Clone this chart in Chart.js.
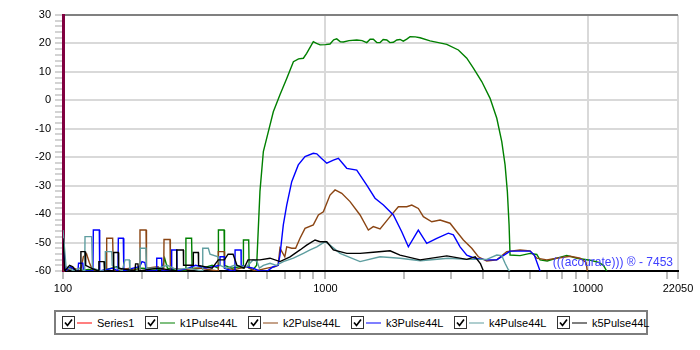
<!DOCTYPE html>
<html>
<head>
<meta charset="utf-8">
<script src="https://cdn.jsdelivr.net/npm/chart.js@4"></script>
<style>
    body { margin: 0; background: #fff; font-family: "Liberation Sans", Arial, sans-serif; }
    .chartWrapper { position: relative; width: 700px; height: 350px; }
    #freqChart { position: absolute; left: 0; top: 0; }
    .legendBox {
        position: absolute; left: 54px; top: 310px; width: 594px; height: 25px;
        box-sizing: border-box; border: 2px solid #7d7d7d;
        display: flex; align-items: center; padding-left: 6px;
        font-size: 11px; color: #000; white-space: nowrap;
    }
    .legendItem { display: flex; align-items: center; flex: none; }
    .checkBox {
        width: 13px; height: 13px; box-sizing: border-box; border: 1px solid #333;
        background: #fff; display: flex; align-items: center; justify-content: center;
    }
    .legendLine { width: 15px; height: 2px; margin: 0 5px 0 2px; }
</style>
</head>
<body>
<div class="chartWrapper">
    <canvas id="freqChart" width="700" height="300"></canvas>
    <div class="legendBox"></div>
</div>
<script>
//-----------------------------------------------------------------------------
// chart data ([frequency Hz, level dB])
//-----------------------------------------------------------------------------
const seriesNames  = ["Series1", "k1Pulse44L", "k2Pulse44L", "k3Pulse44L", "k4Pulse44L", "k5Pulse44L"];
const seriesColors = ["#ff0000", "#008000", "#8b4513", "#0000ff", "#5f9ea0", "#000000"];

const series1 = [];

const k1Pulse44L = [
    [100,-60],[108,-59],[115,-60],[125,-59.5],[140,-60],[160,-58.5],[172,-60],[200,-59],[238,-59.5],[244,-55.5],
    [250,-59],[280,-60],[293,-60],[294,-48.5],[309,-48.5],[310.5,-59],[340,-59],[370,-58],[390,-59],[391,-45.6],
    [411,-45.6],[412.5,-58],[440,-59],[470,-58.5],[486,-59],[487,-49.1],[510,-49.1],[512,-59],[530,-59.5],[547,-58],
    [563,-32],[580,-18],[606,-11],[633,-4],[671,2],[712,7.7],[755,13.6],[790,14.6],[824,14.8],[848,16.5],
    [899,20.6],[925,20.0],[954,19.5],[1000,19.6],[1041,19.8],[1075,21.3],[1104,21.6],[1140,20.6],[1170,20.5],[1230,21.0],
    [1316,21.2],[1380,21.0],[1437,20.3],[1480,21.5],[1522,21.5],[1570,20.3],[1615,20.3],[1660,21.4],[1713,21.2],[1760,20.3],
    [1815,20.4],[1870,21.2],[1924,21.4],[1980,20.8],[2041,21.5],[2101,22.4],[2200,22.3],[2294,22.0],[2504,20.9],[2900,19.7],
    [3210,17.7],[3456,14.8],[3662,11.3],[3941,6.6],[4240,0.7],[4497,-6.3],[4698,-14.5],[4836,-22.7],[4934,-32.1],[5009,-43.8],
    [5052,-54.4],[5515,-54.6],[6022,-53.8],[6387,-54.2],[6574,-56.1],[7000,-56.5],[7613,-55.5],[8310,-54.5],[9073,-55.5],[10194,-56.2],
    [11000,-57],[11460,-58],[11803,-60]
];

const k2Pulse44L = [
    [100,-60],[110,-59],[116.8,-60],[119.5,-55],[123,-54],[126,-57],[130,-60],[146,-60],[146.7,-48.5],[154.6,-48.5],
    [155.5,-60],[180,-59],[196,-60],[196.5,-45.6],[207.2,-45.6],[208,-59],[230,-58.5],[242,-60],[242.6,-48.9],[255.7,-48.9],
    [256.5,-59],[290,-59.5],[330,-59],[390,-60],[390.7,-53.2],[411.9,-53.2],[412.5,-59],[450,-59.5],[500,-58.5],[540,-60],
    [600,-59],[640,-58.5],[660,-58],[671,-52],[700,-55],[712,-51.5],[744,-52],[770,-52],[800,-48.5],[836,-45],
    [899,-43.8],[940,-40.3],[982,-39.2],[1041,-33.3],[1088,-31.5],[1154,-32.7],[1241,-35.6],[1355,-40.3],[1457,-45.6],[1522,-44.4],
    [1615,-45.2],[1763,-40.9],[1896,-37.4],[2041,-37.4],[2133,-36.8],[2259,-38],[2361,-40.9],[2542,-42.7],[2734,-42.1],[2984,-43.2],
    [3165,-46.2],[3354,-49.1],[3610,-52],[3825,-55],[4117,-56.5],[4497,-56.1],[4908,-53.2],[5515,-52.6],[6022,-52.9],[6387,-55.5],
    [6972,-56.1],[7613,-55.5],[8555,-54.8],[9339,-55.5],[9842,-57],[9950,-60]
];

const k3Pulse44L = [
    [100,-48.5],[102,-60],[107,-58.5],[112,-60],[114,-60],[114.6,-57.3],[119,-57.3],[119.6,-60],[130,-60],[130.5,-45.6],
    [137.5,-45.6],[138,-60],[155,-59],[162,-60],[162.5,-48.5],[169.7,-48.5],[170.5,-60],[185,-59],[196,-58.5],[200,-56.7],
    [205,-57],[208,-60],[227,-60],[227.6,-55.5],[237.7,-55.5],[238.5,-60],[259,-60],[259.5,-52.6],[271.3,-52.6],[272,-60],
    [300,-59],[320,-58],[350,-59],[396,-58],[396.6,-55],[411.9,-55],[412.5,-59],[440,-60],[452,-60],[452.6,-52.6],
    [476.8,-52.6],[477.5,-58],[500,-58.5],[530,-59],[560,-60],[600,-60],[633,-58.5],[660,-58],[671,-54.4],[691,-43.8],
    [712,-36.8],[744,-28.6],[788,-22.7],[836,-19.8],[899,-18.6],[927,-18.8],[960,-20.2],[1012,-22.1],[1072,-21],[1120,-20.4],
    [1206,-23.9],[1316,-24.5],[1437,-29.8],[1545,-34.4],[1663,-36.8],[1815,-40.3],[1953,-46.2],[2070,-51.5],[2259,-45.6],[2432,-50.3],
    [2656,-48.5],[2940,-46.7],[3072,-47.3],[3258,-51.5],[3456,-54.4],[3700,-55.5],[4117,-56.1],[4497,-56.1],[4908,-53.8],[5052,-53],
    [6022,-53],[6250,-54.4],[6574,-60]
];

const k4Pulse44L = [
    [100,-45.6],[102.7,-58.5],[110,-60],[116,-59],[121,-60],[121.3,-47.9],[128.6,-47.9],[129.5,-59],[140,-60],[144.6,-60],
    [145,-53.2],[153.3,-53.2],[154,-58],[168,-60],[172.3,-56.1],[178.9,-56.1],[180,-60],[196.5,-60],[197,-52],[207,-52],
    [208,-59],[230,-59],[250,-58],[270,-59.5],[300,-59],[340,-60],[340.8,-52],[357.9,-52],[363.3,-54.1],[390,-55],
    [396,-58],[420,-59],[450,-58],[500,-58.5],[530,-56.1],[548,-56.5],[560,-59],[580,-58],[615,-57.3],[650,-58],
    [691,-56.7],[755,-55.5],[824,-53.8],[874,-52.6],[927,-51.5],[997,-49.7],[1041,-50.9],[1136,-53.8],[1355,-56.7],[1615,-55],
    [1924,-55.5],[2300,-56.4],[2940,-55.5],[3456,-55.9],[4117,-55.9],[4497,-54.4],[4698,-54.6],[4836,-57.3],[4977,-59.6],[5050,-60]
];

const k5Pulse44L = [
    [100,-48.5],[101.5,-60],[106,-58],[109,-58.5],[112,-60],[116.5,-60],[117,-53.2],[121.3,-53.2],[122,-58],[128,-59],
    [136.3,-60],[137,-56.7],[143.3,-56.7],[144,-60],[155.3,-60],[156,-53.5],[162.5,-53.5],[163,-59],[188,-60],[189,-57.5],
    [193,-57.5],[194,-60],[230,-59],[270.6,-60],[271.3,-52.6],[287.4,-52.6],[288,-58],[313.2,-58],[313.8,-53.5],[327.8,-53.5],
    [328.5,-58],[370,-59],[390.7,-56.1],[411.9,-56.1],[425.6,-54.1],[444.7,-54.1],[460,-58],[490,-59],[507,-56.1],[529.8,-56.1],
    [563,-56.1],[615,-55.5],[671,-56.7],[733,-55],[800,-52.6],[848,-50.9],[913,-49.1],[954,-49.7],[1012,-49.7],[1072,-52.6],
    [1136,-53.2],[1206,-53.8],[1355,-53.8],[1522,-53.4],[1763,-52.9],[1924,-54.4],[2294,-56.1],[2900,-54.7],[3456,-55.9],[3720,-55],
    [3900,-57.5],[4000,-60]
];

const seriesData = [series1, k1Pulse44L, k2Pulse44L, k3Pulse44L, k4Pulse44L, k5Pulse44L];

// axis ticks
const xTickValues = [100,200,300,400,500,600,700,800,900,1000,2000,3000,4000,5000,6000,7000,8000,9000,10000,20000,22050];
const xTickLabels = [100, 1000, 10000, 22050];
const xGridValues = [1000, 10000, 22050];
const yTickLabels = [-60,-50,-40,-30,-20,-10,0,10,20,30];
const yTickValues = [];
for (let v = -60; v <= 30; v += 2) yTickValues.push(v);

const watermarkText = "(((acourate))) \u00AE - 7453";

//-----------------------------------------------------------------------------
// little plugin for the acourate stamp in the bottom right corner
//-----------------------------------------------------------------------------
const watermarkPlugin = {
    id: "watermark",
    afterDatasetsDraw(chart) {
        const { ctx, chartArea } = chart;
        ctx.save();
        ctx.font = '12px "Liberation Sans", Arial, sans-serif';
        ctx.fillStyle = "#4040ff";
        ctx.textAlign = "right";
        ctx.textBaseline = "alphabetic";
        ctx.fillText(watermarkText, chartArea.right - 5, chartArea.bottom - 5);
        ctx.restore();
    }
};

//-----------------------------------------------------------------------------
// build the chart
//-----------------------------------------------------------------------------
const datasets = seriesNames.map((name, i) => ({
    label: name,
    data: seriesData[i].map(p => ({ x: p[0], y: p[1] })),
    borderColor: seriesColors[i],
    backgroundColor: seriesColors[i],
    borderWidth: 1.4,
    pointRadius: 0,
    tension: 0,
    fill: false,
    order: seriesNames.length - i   // later series drawn on top
}));

const ctx = document.getElementById("freqChart").getContext("2d");
const chart = new Chart(ctx, {
    type: "line",
    data: { datasets },
    plugins: [watermarkPlugin],
    options: {
        responsive: false,
        animation: false,
        layout: { padding: { top: 15, right: 22, bottom: 0, left: 0 } },
        plugins: {
            legend: { display: false },
            tooltip: { enabled: false }
        },
        scales: {
            x: {
                type: "logarithmic",
                min: 100,
                max: 22050,
                afterBuildTicks: axis => { axis.ticks = xTickValues.map(v => ({ value: v })); },
                afterFit: axis => { axis.height = 29; },
                ticks: {
                    autoSkip: false,
                    maxRotation: 0,
                    minRotation: 0,
                    padding: 3,
                    color: "#000",
                    font: { family: '"Liberation Sans", Arial, sans-serif', size: 11 },
                    callback: value => xTickLabels.includes(value) ? String(value) : ""
                },
                grid: {
                    color: c => xGridValues.includes(c.tick && c.tick.value) ? "#d9d9d9" : "transparent",
                    lineWidth: 2,
                    tickColor: "#bcbcbc",
                    tickLength: 8,
                    tickWidth: 2
                },
                border: { color: "#000", width: 2 }
            },
            y: {
                min: -60,
                max: 30,
                afterBuildTicks: axis => { axis.ticks = yTickValues.map(v => ({ value: v })); },
                afterFit: axis => { axis.width = 63; },
                ticks: {
                    autoSkip: false,
                    padding: 4,
                    color: "#000",
                    font: { family: '"Liberation Sans", Arial, sans-serif', size: 11 },
                    callback: value => yTickLabels.includes(value) ? String(value) : ""
                },
                grid: {
                    color: c => {
                        const v = c.tick && c.tick.value;
                        if (v === 30) return "#808080";
                        if (v !== -60 && yTickLabels.includes(v)) return "#d9d9d9";
                        return "transparent";
                    },
                    lineWidth: 2,
                    tickColor: "#c4c4c4",
                    tickLength: 8,
                    tickWidth: 1.5
                },
                border: { color: "#800040", width: 3 }
            }
        }
    }
});

//-----------------------------------------------------------------------------
// legend with the check boxes underneath the chart
//-----------------------------------------------------------------------------
const legendBox = document.querySelector(".legendBox");
seriesNames.forEach((name, i) => {
    // first entry is shorter, the others are all the same width
    const itemWidth = i === 0 ? 83 : 103;
    legendBox.insertAdjacentHTML("beforeend",
        `<div class="legendItem" style="width:${itemWidth}px">
            <span class="checkBox"><svg width="9" height="9"><polyline points="1,4.5 3.5,7.5 8,1.5" fill="none" stroke="#000" stroke-width="1.7"/></svg></span>
            <span class="legendLine" style="background:${seriesColors[i]}80"></span>
            <span>${name}</span>
        </div>`);
});
</script>
</body>
</html>
